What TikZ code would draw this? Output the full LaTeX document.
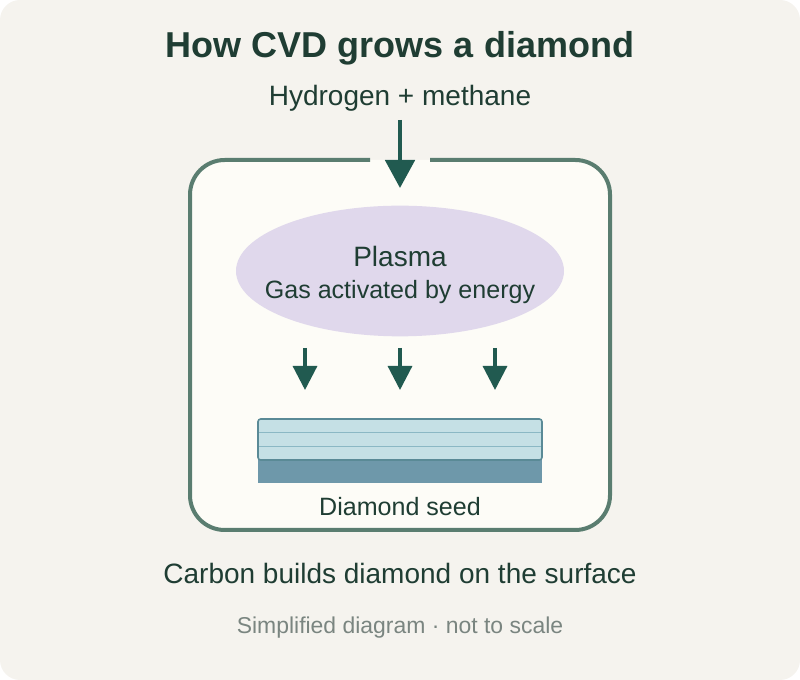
\documentclass[tikz,border=0pt]{standalone}
\usepackage{fontspec}
\setmainfont{Liberation Sans}
\usetikzlibrary{shapes.geometric,arrows.meta}
\definecolor{bgpaper}{HTML}{F5F3EE}
\definecolor{inkdark}{HTML}{1F3D33}
\definecolor{arrowgreen}{HTML}{215A50}
\definecolor{wallgreen}{HTML}{5A7D70}
\definecolor{chamberfill}{HTML}{FDFCF7}
\definecolor{plasmafill}{HTML}{E0D8EC}
\definecolor{layerfill}{HTML}{C5E0E5}
\definecolor{layerline}{HTML}{8BB8C4}
\definecolor{layeredge}{HTML}{5A8A96}
\definecolor{seedbase}{HTML}{6E98AA}
\definecolor{notegray}{HTML}{7A8580}
\begin{document}
\begin{tikzpicture}[x=0.75pt,y=-0.75pt,inner sep=0pt,outer sep=0pt,
label/.style={text=inkdark,anchor=center},
flow/.style={draw=arrowgreen,line width=3pt,-{Triangle[length=21pt,width=22pt]}},
drift/.style={draw=arrowgreen,line width=2.4pt,-{Triangle[length=18pt,width=18pt]}}]
\useasboundingbox (0,0) rectangle (800,680);
\fill[bgpaper,rounded corners=15pt] (0,0) rectangle (800,680);
% chamber with opening at the top
\fill[chamberfill,rounded corners=26pt] (190,160) rectangle (610,530);
\draw[wallgreen,line width=3pt,rounded corners=26pt] (370,160) -- (190,160) -- (190,530) -- (610,530) -- (610,160) -- (430,160);
\node[label,font=\bfseries\fontsize{27}{31}\selectfont] (title) at (400,48) {How CVD grows a diamond};
\node[label,font=\fontsize{21}{25}\selectfont] (gas) at (400,98) {Hydrogen + methane};
\coordinate (gasin) at (400,120);
\coordinate (inlet) at (400,188);
\draw[flow] (gasin) -- (inlet);
\node[ellipse,fill=plasmafill,minimum width=246pt,minimum height=98pt] (plasma) at (400,271) {};
\node[label,font=\fontsize{21}{25}\selectfont] (plasmaname) at (400,256) {Plasma};
\node[label,font=\fontsize{18.8}{22}\selectfont] (plasmanote) at (400,292) {Gas activated by energy};
% falling carbon
\foreach \x/\n in {305/a,400/b,495/c}{
  \coordinate (top\n) at (\x,348);
  \coordinate (bot\n) at (\x,390);
  \draw[drift] (top\n) -- (bot\n);
}
% seed crystal
\fill[seedbase] (258,458) rectangle (542,483);
\draw[layeredge,fill=layerfill,line width=1.2pt,rounded corners=2pt] (258,419) rectangle (542,460);
\draw[layerline,line width=1pt] (259,432.5) -- (541,432.5) (259,446.5) -- (541,446.5);
\node[label,font=\fontsize{18.8}{22}\selectfont] (seed) at (400,507) {Diamond seed};
\node[label,font=\fontsize{21}{25}\selectfont] (result) at (400,573) {Carbon builds diamond on the surface};
\node[text=notegray,font=\fontsize{17.2}{20}\selectfont] (note) at (400,628) {Simplified diagram · not to scale};
\end{tikzpicture}
\end{document}
